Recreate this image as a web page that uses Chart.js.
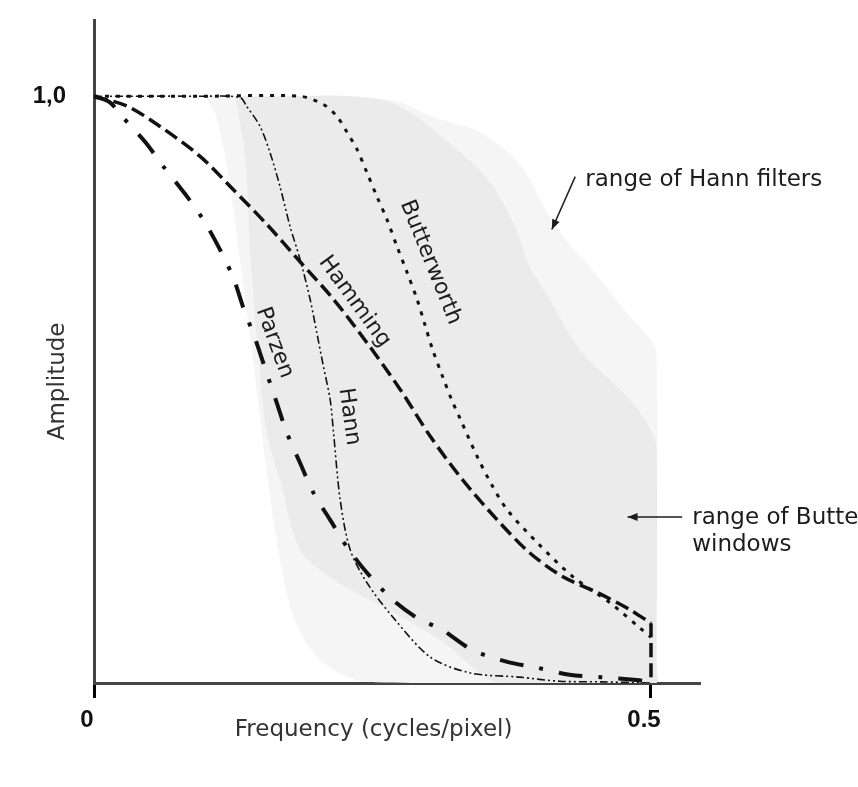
<!DOCTYPE html>
<html lang="en">
<head>
    <meta charset="UTF-8">
    <title>Window filters - amplitude vs frequency</title>
    <script src="https://cdn.jsdelivr.net/npm/chart.js@4"></script>
    <style>
        body {
            margin: 0;
            background: #fff;
        }
        .chart-box {
            width: 858px;
            height: 787px;
        }
    </style>
</head>
<body>
<div class="chart-box"><canvas id="filterChart"></canvas></div>
<script>
    // frequency (cycles/pixel) / amplitude
    const butterworthX = [0, 0.095, 0.185, 0.206, 0.218, 0.227, 0.236, 0.245, 0.254, 0.263, 0.272, 0.281, 0.290, 0.297, 0.304, 0.313, 0.321, 0.329, 0.344, 0.357, 0.371, 0.398, 0.430, 0.463, 0.490, 0.5];
    const butterworthY = [1, 1, 1, 0.986, 0.966, 0.939, 0.910, 0.870, 0.829, 0.790, 0.744, 0.700, 0.654, 0.611, 0.568, 0.522, 0.483, 0.449, 0.386, 0.338, 0.295, 0.239, 0.181, 0.137, 0.094, 0.078];

    const hammingX = [0, 0.030, 0.059, 0.095, 0.125, 0.155, 0.185, 0.215, 0.245, 0.275, 0.302, 0.331, 0.362, 0.391, 0.421, 0.452, 0.481, 0.5];
    const hammingY = [1, 0.983, 0.949, 0.898, 0.841, 0.782, 0.718, 0.654, 0.580, 0.500, 0.420, 0.346, 0.278, 0.222, 0.181, 0.154, 0.125, 0.102];
    // hamming drops straight down to the axis at 0.5
    const hammingDropX = [0.5, 0.5];
    const hammingDropY = [0.102, 0];

    const hannX = [0, 0.095, 0.131, 0.137, 0.149, 0.158, 0.167, 0.176, 0.185, 0.194, 0.200, 0.206, 0.212, 0.215, 0.221, 0.230, 0.245, 0.268, 0.302, 0.338, 0.382, 0.418, 0.455, 0.5];
    const hannY = [1, 1, 0.998, 0.983, 0.949, 0.904, 0.846, 0.778, 0.722, 0.654, 0.597, 0.539, 0.483, 0.427, 0.312, 0.227, 0.171, 0.113, 0.044, 0.017, 0.010, 0.003, 0.002, 0];

    const parzenX = [0, 0.014, 0.026, 0.046, 0.062, 0.082, 0.098, 0.113, 0.125, 0.134, 0.145, 0.154, 0.164, 0.173, 0.185, 0.197, 0.212, 0.227, 0.245, 0.268, 0.290, 0.313, 0.340, 0.371, 0.398, 0.427, 0.455, 0.487, 0.5];
    const parzenY = [1, 0.990, 0.964, 0.922, 0.881, 0.833, 0.790, 0.739, 0.691, 0.640, 0.585, 0.534, 0.478, 0.427, 0.375, 0.324, 0.278, 0.232, 0.188, 0.142, 0.111, 0.090, 0.056, 0.036, 0.026, 0.014, 0.010, 0.005, 0.002];

    // shaded ranges (closed outlines, extra points near the corners keep the edges straight)
    const hannRangeX = [0.100, 0.160, 0.230, 0.275, 0.302, 0.346, 0.382, 0.407, 0.427, 0.445, 0.481, 0.500, 0.505, 0.505, 0.505, 0.490, 0.300, 0.239, 0.203, 0.180, 0.167, 0.156, 0.145, 0.131, 0.120, 0.109, 0.100];
    const hannRangeY = [1, 1, 1, 0.990, 0.966, 0.939, 0.884, 0.802, 0.747, 0.710, 0.625, 0.585, 0.560, 0.030, 0, 0, 0, 0.003, 0.039, 0.108, 0.210, 0.346, 0.517, 0.722, 0.875, 0.969, 1];

    const butterRangeX = [0.127, 0.180, 0.230, 0.266, 0.293, 0.320, 0.346, 0.364, 0.380, 0.391, 0.409, 0.436, 0.481, 0.500, 0.505, 0.505, 0.505, 0.490, 0.364, 0.311, 0.259, 0.215, 0.185, 0.167, 0.155, 0.147, 0.140, 0.136, 0.129, 0.127];
    const butterRangeY = [1, 1, 1, 0.990, 0.961, 0.918, 0.875, 0.829, 0.768, 0.710, 0.654, 0.568, 0.483, 0.430, 0.400, 0.030, 0, 0, 0, 0.073, 0.130, 0.176, 0.227, 0.346, 0.427, 0.568, 0.739, 0.892, 0.978, 1];

    const xTicks = [0, 0.5];
    const xTickLabels = ['0', '0.5'];
    const yTicks = [1];
    const yTickLabels = ['1,0'];

    // where the texts sit (data coords) - kept apart from the data
    const curveTags = [
        { text: 'Butterworth', x: 0.302, y: 0.717, angle: 68 },
        { text: 'Hamming', x: 0.234, y: 0.650, angle: 54 },
        { text: 'Parzen', x: 0.162, y: 0.580, angle: 70 },
        { text: 'Hann', x: 0.229, y: 0.454, angle: 82 }
    ];
    const rangeNotes = [
        { text: 'range of Hann filters', x: 0.441, y: 0.858 },
        { text: 'range of Butterworth', x: 0.537, y: 0.282 },
        { text: 'windows', x: 0.537, y: 0.236 }
    ];
    const arrows = [
        { from: [0.432, 0.863], to: [0.411, 0.773] },
        { from: [0.528, 0.283], to: [0.479, 0.283] }
    ];
    const xTitle = { text: 'Frequency (cycles/pixel)', x: 0.251, y: -0.08 };
    const yTitle = { text: 'Amplitude', x: -0.032, y: 0.514 };

    const toPoints = (xs, ys) => xs.map((v, i) => ({ x: v, y: ys[i] }));

    function curve(label, xs, ys, width, dash) {
        return {
            label: label,
            data: toPoints(xs, ys),
            showLine: true,
            borderColor: '#111',
            borderWidth: width,
            borderDash: dash,
            pointRadius: 0,
            tension: 0.3,
            fill: false,
            order: 1
        };
    }

    function range(label, xs, ys, colour, order) {
        return {
            label: label,
            data: toPoints(xs, ys),
            showLine: true,
            fill: 'shape',
            backgroundColor: colour,
            borderColor: 'rgba(0,0,0,0)',
            pointRadius: 0,
            tension: 0.3,
            order: order
        };
    }

    const notes = {
        id: 'notes',
        afterDraw(chart) {
            const { ctx, scales: { x, y } } = chart;
            ctx.save();
            ctx.fillStyle = '#1c1c1c';
            ctx.strokeStyle = '#1c1c1c';
            ctx.font = '22px "DejaVu Sans"';
            ctx.textBaseline = 'middle';

            curveTags.forEach(t => {
                ctx.save();
                ctx.translate(x.getPixelForValue(t.x), y.getPixelForValue(t.y));
                ctx.rotate(t.angle * Math.PI / 180);
                ctx.textAlign = 'center';
                ctx.fillText(t.text, 0, 0);
                ctx.restore();
            });

            ctx.font = '23px "DejaVu Sans"';
            ctx.textAlign = 'left';
            rangeNotes.forEach(t => {
                ctx.fillText(t.text, x.getPixelForValue(t.x), y.getPixelForValue(t.y));
            });

            ctx.lineWidth = 1.5;
            arrows.forEach(a => {
                const x0 = x.getPixelForValue(a.from[0]), y0 = y.getPixelForValue(a.from[1]);
                const x1 = x.getPixelForValue(a.to[0]), y1 = y.getPixelForValue(a.to[1]);
                const ang = Math.atan2(y1 - y0, x1 - x0);
                ctx.beginPath();
                ctx.moveTo(x0, y0);
                ctx.lineTo(x1, y1);
                ctx.stroke();
                ctx.beginPath();
                ctx.moveTo(x1, y1);
                ctx.lineTo(x1 - 10 * Math.cos(ang) + 4 * Math.sin(ang), y1 - 10 * Math.sin(ang) - 4 * Math.cos(ang));
                ctx.lineTo(x1 - 10 * Math.cos(ang) - 4 * Math.sin(ang), y1 - 10 * Math.sin(ang) + 4 * Math.cos(ang));
                ctx.closePath();
                ctx.fill();
            });

            // axis titles: the figure has them off-centre, so placed by hand
            ctx.fillStyle = '#333';
            ctx.textAlign = 'center';
            ctx.fillText(xTitle.text, x.getPixelForValue(xTitle.x), y.getPixelForValue(xTitle.y));
            ctx.save();
            ctx.translate(x.getPixelForValue(yTitle.x), y.getPixelForValue(yTitle.y));
            ctx.rotate(-Math.PI / 2);
            ctx.fillText(yTitle.text, 0, 0);
            ctx.restore();

            ctx.restore();
        }
    };

    Chart.defaults.font.family = '"DejaVu Sans", sans-serif';

    const tickFont = { family: '"Liberation Sans", Arial, sans-serif', size: 24, weight: 'bold' };

    new Chart(document.getElementById('filterChart'), {
        type: 'scatter',
        data: {
            datasets: [
                range('range of Hann filters', hannRangeX, hannRangeY, '#f5f5f5', 6),
                range('range of Butterworth windows', butterRangeX, butterRangeY, '#ebebeb', 5),
                curve('Butterworth', butterworthX, butterworthY, 3, [4, 7]),
                curve('Hamming', hammingX, hammingY, 3.5, [14, 6]),
                curve('Hamming', hammingDropX, hammingDropY, 3.5, [14, 6]),
                curve('Hann', hannX, hannY, 1.6, [8, 3, 2, 3, 2, 3]),
                curve('Parzen', parzenX, parzenY, 4, [24, 16, 4, 16])
            ]
        },
        options: {
            responsive: true,
            maintainAspectRatio: false,
            animation: false,
            layout: { padding: { top: 20, right: 158, left: 0, bottom: 0 } },
            plugins: {
                legend: { display: false },
                tooltip: { enabled: false }
            },
            scales: {
                x: {
                    type: 'linear',
                    min: 0,
                    max: 0.544,
                    afterFit: s => {
                        s.height = 104;
                        s.paddingLeft = 0;
                        s.paddingRight = 0;
                    },
                    afterBuildTicks: s => { s.ticks = xTicks.map(v => ({ value: v })); },
                    grid: { display: true, drawOnChartArea: false, drawTicks: true, tickLength: 15, tickWidth: 3, tickColor: '#000' },
                    border: { display: true, color: '#444', width: 3 },
                    ticks: {
                        padding: 8,
                        labelOffset: -7,
                        color: '#111',
                        font: tickFont,
                        callback: (v, i) => xTickLabels[i]
                    }
                },
                y: {
                    type: 'linear',
                    min: 0,
                    max: 1.13,
                    afterFit: s => {
                        s.width = 94;
                        s.paddingTop = 0;
                        s.paddingBottom = 0;
                    },
                    afterBuildTicks: s => { s.ticks = yTicks.map(v => ({ value: v })); },
                    grid: { display: false },
                    border: { display: true, color: '#444', width: 3 },
                    ticks: {
                        padding: 20,
                        color: '#111',
                        font: tickFont,
                        callback: (v, i) => yTickLabels[i]
                    }
                }
            }
        },
        plugins: [notes]
    });
</script>
</body>
</html>
